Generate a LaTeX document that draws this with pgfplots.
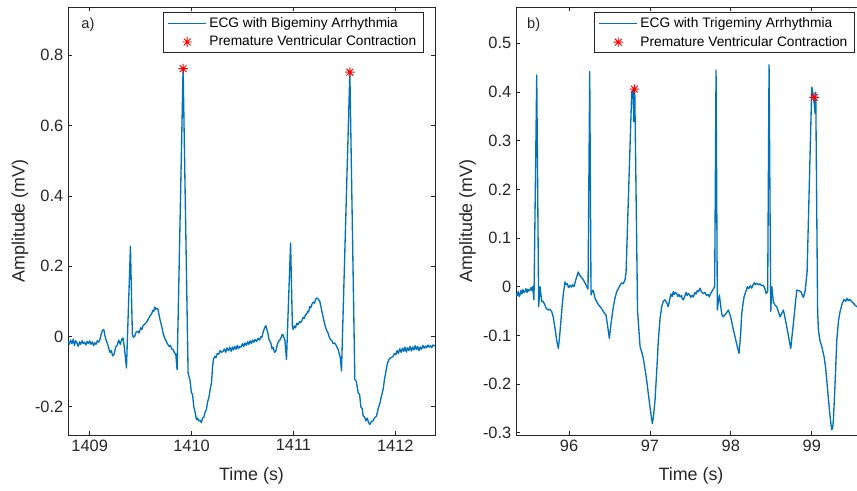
\documentclass[border=0pt]{standalone}
\usepackage{fontspec}
\setmainfont{Liberation Sans}
\usepackage{pgfplots}
\usepackage{pgfplotstable}
\pgfplotsset{compat=1.18}
\definecolor{mblue}{rgb}{0,0.447,0.741}
\definecolor{axgray}{rgb}{0.15,0.15,0.15}
\pgfdeclareplotmark{mstar}{%
  \pgfpathmoveto{\pgfpoint{-\pgfplotmarksize}{0pt}}\pgfpathlineto{\pgfpoint{\pgfplotmarksize}{0pt}}%
  \pgfpathmoveto{\pgfpoint{0pt}{-\pgfplotmarksize}}\pgfpathlineto{\pgfpoint{0pt}{\pgfplotmarksize}}%
  \pgfpathmoveto{\pgfpoint{-0.707\pgfplotmarksize}{-0.707\pgfplotmarksize}}\pgfpathlineto{\pgfpoint{0.707\pgfplotmarksize}{0.707\pgfplotmarksize}}%
  \pgfpathmoveto{\pgfpoint{-0.707\pgfplotmarksize}{0.707\pgfplotmarksize}}\pgfpathlineto{\pgfpoint{0.707\pgfplotmarksize}{-0.707\pgfplotmarksize}}%
  \pgfusepathqstroke}

\pgfplotstableread{
t y
1408.787 -0.013
1408.800 -0.022
1408.812 -0.010
1408.825 -0.020
1408.838 -0.008
1408.850 -0.025
1408.862 -0.012
1408.875 -0.018
1408.888 -0.028
1408.900 -0.015
1408.912 -0.022
1408.925 -0.012
1408.938 -0.020
1408.950 -0.016
1408.962 -0.024
1408.975 -0.014
1408.988 -0.020
1409.000 -0.012
1409.012 -0.022
1409.025 -0.015
1409.038 -0.026
1409.050 -0.018
1409.062 -0.022
1409.075 -0.012
1409.088 -0.016
1409.100 -0.008
1409.112 0.005
1409.125 0.018
1409.138 0.020
1409.150 0.002
1409.162 -0.012
1409.175 -0.020
1409.188 -0.035
1409.200 -0.045
1409.212 -0.040
1409.225 -0.055
1409.240 -0.050
1409.255 -0.030
1409.270 -0.025
1409.285 -0.010
1409.300 -0.022
1409.315 -0.008
1409.327 -0.004
1409.340 -0.030
1409.361 -0.089
1409.400 0.257
1409.419 0.006
1409.430 -0.002
1409.442 0.001
1409.455 0.012
1409.472 0.015
1409.485 0.010
1409.500 0.025
1409.512 0.020
1409.525 0.032
1409.540 0.035
1409.555 0.040
1409.573 0.048
1409.590 0.058
1409.609 0.065
1409.620 0.075
1409.630 0.072
1409.639 0.084
1409.650 0.078
1409.662 0.080
1409.671 0.077
1409.685 0.055
1409.697 0.040
1409.710 0.025
1409.720 0.010
1409.733 -0.002
1409.747 -0.010
1409.758 -0.018
1409.769 -0.023
1409.780 -0.028
1409.793 -0.025
1409.805 -0.035
1409.818 -0.037
1409.830 -0.045
1409.845 -0.050
1409.858 -0.094
1409.917 0.765
1409.966 -0.103
1409.985 -0.125
1409.999 -0.160
1410.010 -0.165
1410.022 -0.200
1410.035 -0.215
1410.048 -0.236
1410.060 -0.232
1410.071 -0.240
1410.085 -0.238
1410.097 -0.245
1410.108 -0.232
1410.120 -0.230
1410.133 -0.215
1410.146 -0.207
1410.158 -0.185
1410.169 -0.175
1410.183 -0.150
1410.196 -0.131
1410.205 -0.090
1410.215 -0.065
1410.228 -0.056
1410.240 -0.060
1410.252 -0.048
1410.267 -0.050
1410.280 -0.040
1410.295 -0.045
1410.309 -0.042
1410.322 -0.035
1410.335 -0.045
1410.348 -0.032
1410.362 -0.040
1410.375 -0.030
1410.388 -0.042
1410.400 -0.030
1410.412 -0.038
1410.424 -0.028
1410.437 -0.036
1410.450 -0.025
1410.462 -0.034
1410.474 -0.028
1410.487 -0.030
1410.500 -0.020
1410.512 -0.028
1410.525 -0.018
1410.538 -0.025
1410.550 -0.015
1410.562 -0.022
1410.575 -0.012
1410.588 -0.020
1410.600 -0.010
1410.612 -0.016
1410.625 -0.008
1410.638 -0.014
1410.653 -0.005
1410.668 -0.010
1410.680 0.000
1410.690 -0.003
1410.705 0.015
1410.718 0.025
1410.729 0.031
1410.740 0.020
1410.749 0.010
1410.760 -0.008
1410.768 -0.013
1410.780 -0.020
1410.790 -0.035
1410.800 -0.030
1410.815 -0.045
1410.827 -0.042
1410.840 -0.025
1410.852 -0.015
1410.866 -0.010
1410.880 -0.002
1410.890 0.006
1410.899 0.004
1410.916 -0.010
1410.932 -0.065
1410.972 0.266
1410.990 0.030
1410.997 0.020
1411.010 0.030
1411.020 0.025
1411.034 0.038
1411.046 0.034
1411.060 0.042
1411.072 0.040
1411.083 0.045
1411.095 0.055
1411.108 0.052
1411.118 0.062
1411.129 0.063
1411.140 0.072
1411.150 0.070
1411.160 0.085
1411.171 0.082
1411.182 0.092
1411.195 0.098
1411.207 0.095
1411.218 0.105
1411.227 0.110
1411.240 0.108
1411.250 0.104
1411.259 0.100
1411.270 0.085
1411.282 0.068
1411.292 0.055
1411.305 0.038
1411.317 0.025
1411.330 0.015
1411.341 0.010
1411.352 -0.002
1411.363 -0.008
1411.377 -0.012
1411.390 -0.020
1411.405 -0.018
1411.423 -0.027
1411.439 -0.037
1411.460 -0.060
1411.472 -0.098
1411.554 0.752
1411.603 -0.122
1411.618 -0.128
1411.636 -0.160
1411.650 -0.165
1411.662 -0.200
1411.675 -0.205
1411.685 -0.226
1411.698 -0.228
1411.711 -0.240
1411.725 -0.232
1411.738 -0.245
1411.750 -0.250
1411.765 -0.242
1411.780 -0.240
1411.795 -0.232
1411.816 -0.226
1411.832 -0.205
1411.849 -0.190
1411.865 -0.168
1411.881 -0.150
1411.895 -0.120
1411.908 -0.100
1411.920 -0.080
1411.930 -0.070
1411.945 -0.062
1411.960 -0.060
1411.979 -0.056
1411.992 -0.048
1412.005 -0.052
1412.018 -0.040
1412.030 -0.048
1412.045 -0.035
1412.058 -0.045
1412.070 -0.033
1412.083 -0.042
1412.095 -0.030
1412.108 -0.044
1412.120 -0.032
1412.133 -0.040
1412.145 -0.028
1412.158 -0.041
1412.170 -0.030
1412.183 -0.038
1412.195 -0.026
1412.208 -0.037
1412.220 -0.028
1412.233 -0.040
1412.245 -0.030
1412.258 -0.036
1412.270 -0.025
1412.283 -0.033
1412.295 -0.027
1412.308 -0.032
1412.320 -0.024
1412.333 -0.030
1412.345 -0.026
1412.358 -0.032
1412.370 -0.024
1412.389 -0.027
}\bigeminy

\pgfplotstableread{
t y
95.345 -0.014
95.360 -0.018
95.372 -0.010
95.385 -0.020
95.394 -0.017
95.405 -0.008
95.418 -0.015
95.430 -0.006
95.443 -0.012
95.456 -0.010
95.468 -0.004
95.480 -0.012
95.493 -0.005
95.505 -0.009
95.518 -0.007
95.530 -0.002
95.543 -0.008
95.551 0.000
95.567 -0.027
95.601 0.435
95.625 -0.041
95.642 0.000
95.663 -0.031
95.680 -0.030
95.703 -0.038
95.720 -0.045
95.744 -0.048
95.760 -0.046
95.786 -0.051
95.805 -0.062
95.827 -0.086
95.848 -0.110
95.868 -0.127
95.885 -0.100
95.901 -0.068
95.915 -0.040
95.930 -0.014
95.951 0.010
95.965 0.004
95.980 0.006
95.995 -0.002
96.012 0.003
96.030 -0.001
96.045 0.004
96.062 0.000
96.080 0.012
96.095 0.020
96.115 0.030
96.130 0.024
96.150 0.020
96.177 0.014
96.195 0.008
96.210 0.004
96.219 0.000
96.235 -0.005
96.256 0.442
96.272 -0.017
96.280 -0.012
96.297 -0.007
96.310 -0.015
96.321 -0.024
96.340 -0.030
96.360 -0.036
96.383 -0.041
96.400 -0.044
96.424 -0.051
96.440 -0.055
96.457 -0.058
96.475 -0.078
96.498 -0.106
96.520 -0.075
96.548 -0.041
96.570 -0.022
96.590 -0.010
96.610 -0.004
96.630 0.003
96.650 0.008
96.670 0.006
96.692 0.014
96.705 0.030
96.775 0.400
96.790 0.404
96.800 0.339
96.812 0.410
96.847 -0.050
96.878 -0.123
96.900 -0.135
96.918 -0.147
96.940 -0.170
96.960 -0.192
96.980 -0.220
97.001 -0.247
97.015 -0.265
97.030 -0.281
97.045 -0.265
97.063 -0.233
97.085 -0.170
97.104 -0.110
97.125 -0.065
97.146 -0.041
97.165 -0.030
97.187 -0.027
97.205 -0.032
97.227 -0.041
97.245 -0.025
97.260 -0.015
97.275 -0.020
97.289 -0.010
97.300 -0.016
97.315 -0.012
97.331 -0.014
97.345 -0.020
97.360 -0.016
97.372 -0.021
97.390 -0.018
97.400 -0.025
97.413 -0.027
97.430 -0.020
97.445 -0.012
97.460 -0.018
97.475 -0.014
97.490 -0.016
97.505 -0.022
97.520 -0.018
97.536 -0.021
97.555 -0.012
97.570 -0.015
97.585 -0.008
97.600 -0.010
97.619 -0.003
97.635 -0.010
97.660 -0.014
97.680 -0.012
97.700 -0.018
97.720 -0.016
97.734 -0.021
97.750 -0.014
97.765 -0.010
97.776 -0.007
97.800 0.000
97.817 0.445
97.833 -0.048
97.845 -0.030
97.858 -0.017
97.875 -0.041
97.890 -0.058
97.907 -0.062
97.925 -0.058
97.945 -0.054
97.969 -0.048
97.990 -0.058
98.011 -0.072
98.030 -0.088
98.052 -0.103
98.075 -0.120
98.101 -0.137
98.120 -0.100
98.135 -0.055
98.150 -0.035
98.163 -0.021
98.185 -0.010
98.204 0.000
98.220 -0.004
98.240 0.002
98.258 -0.003
98.275 0.004
98.290 0.008
98.305 0.004
98.320 0.007
98.340 0.004
98.360 0.006
98.380 0.002
98.402 0.003
98.420 -0.004
98.435 -0.014
98.455 -0.010
98.472 0.456
98.493 -0.051
98.506 0.000
98.525 -0.031
98.545 -0.038
98.567 -0.041
98.585 -0.050
98.608 -0.062
98.628 -0.055
98.649 -0.048
98.665 -0.060
98.682 -0.075
98.710 -0.100
98.740 -0.127
98.760 -0.095
98.781 -0.062
98.800 -0.030
98.815 -0.007
98.840 -0.008
98.864 -0.010
98.880 -0.016
98.896 -0.022
98.917 -0.010
98.942 0.030
99.000 0.410
99.022 0.390
99.041 0.356
99.049 0.400
99.072 -0.050
99.082 -0.089
99.100 -0.110
99.124 -0.123
99.152 -0.144
99.170 -0.165
99.185 -0.192
99.200 -0.220
99.218 -0.253
99.235 -0.280
99.247 -0.294
99.258 -0.290
99.267 -0.274
99.290 -0.190
99.309 -0.110
99.330 -0.070
99.350 -0.051
99.375 -0.035
99.399 -0.026
99.420 -0.030
99.435 -0.024
99.452 -0.029
99.470 -0.026
99.494 -0.031
99.515 -0.034
99.535 -0.038
99.556 -0.041
99.580 -0.040
99.610 -0.040
99.640 -0.036
99.671 -0.038
}\trigeminy

\pgfplotsset{
  ecg/.style={
    scale only axis, height=321pt,
    axis line style={draw=axgray, line width=0.6pt},
    tick style={draw=axgray, line width=0.6pt},
    major tick length=3pt,
    tick align=inside,
    xtick pos=both, ytick pos=both,
    tick label style={font=\fontsize{12.3}{14}\selectfont, text=axgray},
    label style={font=\fontsize{13.4}{16}\selectfont, text=axgray},
    xlabel={Time (s)}, ylabel={Amplitude (mV)},
    xlabel style={at={(axis description cs:0.5,-0.0958)}, anchor=center},
    legend cell align=left,
    legend style={font=\fontsize{10.3}{12.4}\selectfont, draw=axgray, line width=0.5pt,
      fill=white, anchor=north east, inner xsep=3pt, inner ysep=1.5pt, row sep=1.2pt},
  },
  ecgline/.style={color=mblue, line width=1.0pt, line join=round, mark=none,
    legend image code/.code={\draw[##1, line width=0.8pt] (0pt,0pt) -- (28.5pt,0pt);}},
  pvcmark/.style={only marks, mark=mstar, mark size=3.6pt, red, line width=0.7pt,
    legend image code/.code={\draw[mark repeat=2, mark phase=2, ##1] plot coordinates {(0pt,0pt) (14.25pt,0pt) (28.5pt,0pt)};}},
}

\begin{document}
\begin{tikzpicture}
\begin{axis}[ecg, at={(51pt,42pt)}, anchor=south west, width=275.25pt,
  xmin=1408.787, xmax=1412.39, ymin=-0.28, ymax=0.9375,
  xtick={1409,1410,1411,1412}, xticklabels={1409,1410,1411,1412},
  ytick={-0.2,0,0.2,0.4,0.6,0.8}, yticklabels={-0.2,0,0.2,0.4,0.6,0.8},
  ylabel style={at={(axis description cs:-0.1308,0.5)}, anchor=center},
  legend style={at={(axis description cs:0.968,0.988)}}]
\addplot[ecgline] table[x=t,y=y] {\bigeminy};
\addlegendentry{ECG with Bigeminy Arrhythmia}
\addplot[pvcmark] coordinates {(1409.917,0.762) (1411.554,0.752)};
\addlegendentry{Premature Ventricular Contraction}
\node[anchor=west, font=\fontsize{11}{13}\selectfont, text=axgray, inner sep=0pt] at (axis description cs:0.036,0.9595) {a)};
\end{axis}

\begin{axis}[ecg, at={(387pt,42pt)}, anchor=south west, width=262.5pt,
  xmin=95.345, xmax=99.67, ymin=-0.3047, ymax=0.5747,
  xtick={96,97,98,99}, xticklabels={96,97,98,99},
  ytick={-0.3,-0.2,-0.1,0,0.1,0.2,0.3,0.4,0.5}, yticklabels={-0.3,-0.2,-0.1,0,0.1,0.2,0.3,0.4,0.5},
  ylabel style={at={(axis description cs:-0.1386,0.5)}, anchor=center},
  legend style={at={(axis description cs:0.9666,0.9876)}}]
\addplot[ecgline] table[x=t,y=y] {\trigeminy};
\addlegendentry{ECG with Trigeminy Arrhythmia}
\addplot[pvcmark] coordinates {(96.807,0.406) (99.030,0.389)};
\addlegendentry{Premature Ventricular Contraction}
\node[anchor=west, font=\fontsize{11}{13}\selectfont, text=axgray, inner sep=0pt] at (axis description cs:0.031,0.9595) {b)};
\end{axis}
\pgfresetboundingbox
\path (0pt,0pt) rectangle (642.75pt,368.25pt);
\end{tikzpicture}
\end{document}
